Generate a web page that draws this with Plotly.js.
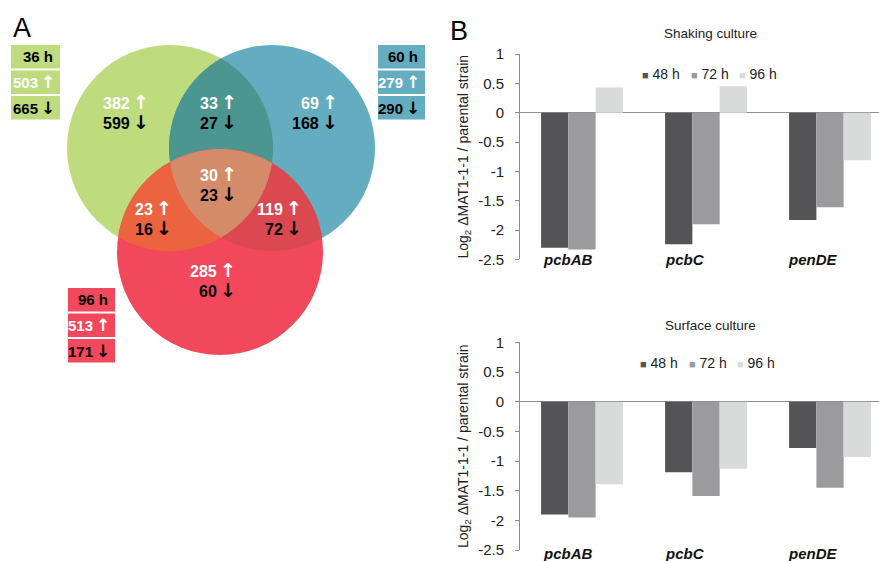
<!DOCTYPE html>
<html>
<head>
<meta charset="utf-8">
<script src="https://cdn.plot.ly/plotly-3.0.1.min.js"></script>
<style>html,body{margin:0;padding:0;background:#fff;}</style>
</head>
<body>
<div id="chart" style="width:879px;height:561px;"></div>
<script>
// ---------------- DATA ----------------
// Panel A: Venn diagram of differentially expressed genes
const setNames = ['36 h', '60 h', '96 h'];
const setUp = [503, 279, 513];
const setDown = [665, 290, 171];
// regions: 36h only, 36h∩60h, 60h only, 36h∩96h, all three, 60h∩96h, 96h only
const regionSets = [[0], [0, 1], [1], [0, 2], [0, 1, 2], [1, 2], [2]];
const regionUp = [382, 33, 69, 23, 30, 119, 285];
const regionDown = [599, 27, 168, 16, 23, 72, 60];

// Panel B: qPCR bar charts
const genes = ['pcbAB', 'pcbC', 'penDE'];
const hours = ['48 h', '72 h', '96 h'];
const shaking48 = [-2.30, -2.24, -1.83];
const shaking72 = [-2.33, -1.90, -1.61];
const shaking96 = [0.43, 0.45, -0.81];
const surface48 = [-1.90, -1.19, -0.78];
const surface72 = [-1.95, -1.59, -1.45];
const surface96 = [-1.39, -1.13, -0.93];
const yTickVals = [1, 0.5, 0, -0.5, -1, -1.5, -2, -2.5];
const yTickText = ['1', '0.5', '0', '-0.5', '-1', '-1.5', '-2', '-2.5'];

// ---------------- LAYOUT / STYLE ----------------
const W = 879, H = 561;
const px = x => x / W;
const py = y => 1 - y / H;
const FONT = 'Liberation Sans, Arial, sans-serif';
const ARROW_FONT = 'DejaVu Sans';

const circles = [
  {cx: 170, cy: 148, r: 103},
  {cx: 272, cy: 148, r: 103},
  {cx: 220, cy: 252, r: 103}
];
const setColors = ['#bedb7d', '#64acc0', '#f2485c'];
const regionColors = ['#bedb7d', '#4b9691', '#64acc0', '#ec6340', '#d48b69', '#da4950', '#f2485c'];
const regionLabelPos = [
  [151, 102], [239, 102], [340, 102], [174, 208], [239, 174], [304, 208], [238, 270]
];
const lineGap = 20;
const boxPos = [[11, 60, 45], [378, 425, 45], [68, 115, 288]];
const boxH = 23.5, boxStep = 25.5;
const barColors = ['#545457', '#9b9b9d', '#d9dbdb'];

function regionPath(idx) {
  const pts = [];
  idx.forEach(i => {
    const c = circles[i];
    for (let k = 0; k < 1440; k++) {
      const a = k / 1440 * 2 * Math.PI;
      const x = c.cx + c.r * Math.cos(a), y = c.cy + c.r * Math.sin(a);
      if (idx.every(j => j === i || Math.hypot(x - circles[j].cx, y - circles[j].cy) <= circles[j].r + 1e-9)) pts.push([x, y]);
    }
  });
  let mx = 0, my = 0;
  pts.forEach(p => { mx += p[0]; my += p[1]; });
  mx /= pts.length; my /= pts.length;
  pts.sort((p, q) => Math.atan2(p[1] - my, p[0] - mx) - Math.atan2(q[1] - my, q[0] - mx));
  return 'M' + pts.map(p => px(p[0]).toFixed(5) + ',' + py(p[1]).toFixed(5)).join('L') + 'Z';
}

const shapes = [];
const annotations = [];
const SP = '\u2009';
const up = (n, s) => `${n}${SP}<span style="font-family:${ARROW_FONT};font-size:${s}px">↑</span>`;
const down = (n, s) => `${n}${SP}<span style="font-family:${ARROW_FONT};font-size:${s}px">↓</span>`;

// full circles
circles.forEach((c, i) => {
  shapes.push({type: 'circle', xref: 'paper', yref: 'paper', layer: 'above',
    x0: px(c.cx - c.r), x1: px(c.cx + c.r), y0: py(c.cy + c.r), y1: py(c.cy - c.r),
    fillcolor: setColors[i], line: {width: 0}});
});
// overlap regions: pairs first, then triple
regionSets.forEach((s, i) => {
  if (s.length === 2) shapes.push({type: 'path', xref: 'paper', yref: 'paper', layer: 'above', path: regionPath(s), fillcolor: regionColors[i], line: {width: 0}});
});
regionSets.forEach((s, i) => {
  if (s.length === 3) shapes.push({type: 'path', xref: 'paper', yref: 'paper', layer: 'above', path: regionPath(s), fillcolor: regionColors[i], line: {width: 0}});
});
// region counts
regionSets.forEach((s, i) => {
  const [x, y] = regionLabelPos[i];
  annotations.push({xref: 'paper', yref: 'paper', x: px(x), y: py(y), xanchor: 'right', yanchor: 'middle', showarrow: false,
    text: '<b>' + up(regionUp[i], 19) + '</b>', font: {family: FONT, size: 16, color: '#ffffff'}});
  annotations.push({xref: 'paper', yref: 'paper', x: px(x), y: py(y + lineGap), xanchor: 'right', yanchor: 'middle', showarrow: false,
    text: '<b>' + down(regionDown[i], 19) + '</b>', font: {family: FONT, size: 16, color: '#000000'}});
});
// set label boxes
setNames.forEach((name, i) => {
  const [x0, x1, y0] = boxPos[i];
  const texts = ['<b>' + name + '</b>', '<b>' + up(setUp[i], 17) + '</b>', '<b>' + down(setDown[i], 17) + '</b>'];
  const cols = ['#000000', '#ffffff', '#000000'];
  texts.forEach((t, k) => {
    const yt = y0 + k * boxStep;
    shapes.push({type: 'rect', xref: 'paper', yref: 'paper', layer: 'above',
      x0: px(x0), x1: px(x1), y0: py(yt + boxH), y1: py(yt), fillcolor: setColors[i], line: {width: 0}});
    annotations.push({xref: 'paper', yref: 'paper', x: px(x1 - (k === 0 ? 5 : 3)), y: py(yt + boxH / 2), xanchor: 'right', yanchor: 'middle',
      showarrow: false, text: t, font: {family: FONT, size: 15, color: cols[k]}});
  });
});
// panel letters
annotations.push({xref: 'paper', yref: 'paper', x: px(22), y: py(28), xanchor: 'center', yanchor: 'middle', showarrow: false,
  text: 'A', font: {family: FONT, size: 27, color: '#000'}});
annotations.push({xref: 'paper', yref: 'paper', x: px(459), y: py(31), xanchor: 'center', yanchor: 'middle', showarrow: false,
  text: 'B', font: {family: FONT, size: 27, color: '#000'}});

// ---------------- BAR CHARTS ----------------
const axisColor = '#8d8d8d';
const textColor = '#222';
function yaxisDef(d0, d1, anchor) {
  return {domain: [d0, d1], range: [-2.5, 1], anchor: anchor, tickvals: yTickVals, ticktext: yTickText,
    showline: true, linecolor: axisColor, linewidth: 1, ticks: 'outside', ticklen: 4, tickcolor: axisColor,
    zeroline: true, zerolinecolor: axisColor, zerolinewidth: 1, showgrid: false, ticklabelstandoff: 8,
    tickfont: {family: FONT, size: 15, color: textColor},
    title: {text: 'Log<sub>2</sub> ΔMAT1-1-1 / parental strain', font: {family: FONT, size: 14, color: textColor}, standoff: 6}};
}
function xaxisDef(anchor) {
  return {domain: [520 / W, 1], range: [-0.5, 2.395], type: 'category', anchor: anchor,
    showline: false, showticklabels: false, ticks: '', showgrid: false, zeroline: false};
}

const traces = [];
[[shaking48, shaking72, shaking96, 'x', 'y'], [surface48, surface72, surface96, 'x2', 'y2']].forEach(g => {
  [g[0], g[1], g[2]].forEach((vals, k) => {
    traces.push({type: 'bar', x: genes, y: vals, name: hours[k], xaxis: g[3], yaxis: g[4],
      marker: {color: barColors[k], line: {width: 0}}, showlegend: false, hoverinfo: 'skip'});
  });
});

const panels = [
  {title: 'Shaking culture', xref: 'x', yref: 'y', titleY: 33, legendY: 74, legendX: 640, catShift: 0},
  {title: 'Surface culture', xref: 'x2', yref: 'y2', titleY: 325, legendY: 363, legendX: 638, catShift: -3}
];
const catXShift = [-14, -21, -17];
panels.forEach(p => {
  annotations.push({xref: 'paper', yref: 'paper', x: px(710), y: py(p.titleY), xanchor: 'center', yanchor: 'middle',
    showarrow: false, text: p.title, font: {family: FONT, size: 13.5, color: textColor}});
  hours.forEach((h, k) => {
    annotations.push({xref: 'paper', yref: 'paper', x: px(p.legendX + k * 48.5), y: py(p.legendY), xanchor: 'left', yanchor: 'middle',
      showarrow: false, text: `<span style="color:${barColors[k]};font-size:11px">■</span> ${h}`,
      font: {family: FONT, size: 14, color: textColor}});
  });
  genes.forEach((gname, i) => {
    annotations.push({xref: p.xref, yref: p.yref, x: i, y: -2.5, xshift: catXShift[i], yshift: p.catShift, xanchor: 'center', yanchor: 'middle',
      showarrow: false, text: '<b><i>' + gname + '</i></b>', font: {family: FONT, size: 15, color: '#111'}});
  });
});

const layout = {
  width: W, height: H,
  margin: {l: 0, r: 0, t: 0, b: 0},
  paper_bgcolor: '#ffffff', plot_bgcolor: 'rgba(0,0,0,0)',
  showlegend: false,
  barmode: 'group', bargap: 0.34, bargroupgap: 0,
  font: {family: FONT},
  xaxis: xaxisDef('y'),
  yaxis: yaxisDef(py(259.4), py(54), 'x'),
  xaxis2: xaxisDef('y2'),
  yaxis2: yaxisDef(py(550), py(342.4), 'x2'),
  shapes: shapes,
  annotations: annotations
};

Plotly.newPlot('chart', traces, layout, {staticPlot: true, displayModeBar: false});
</script>
</body>
</html>
